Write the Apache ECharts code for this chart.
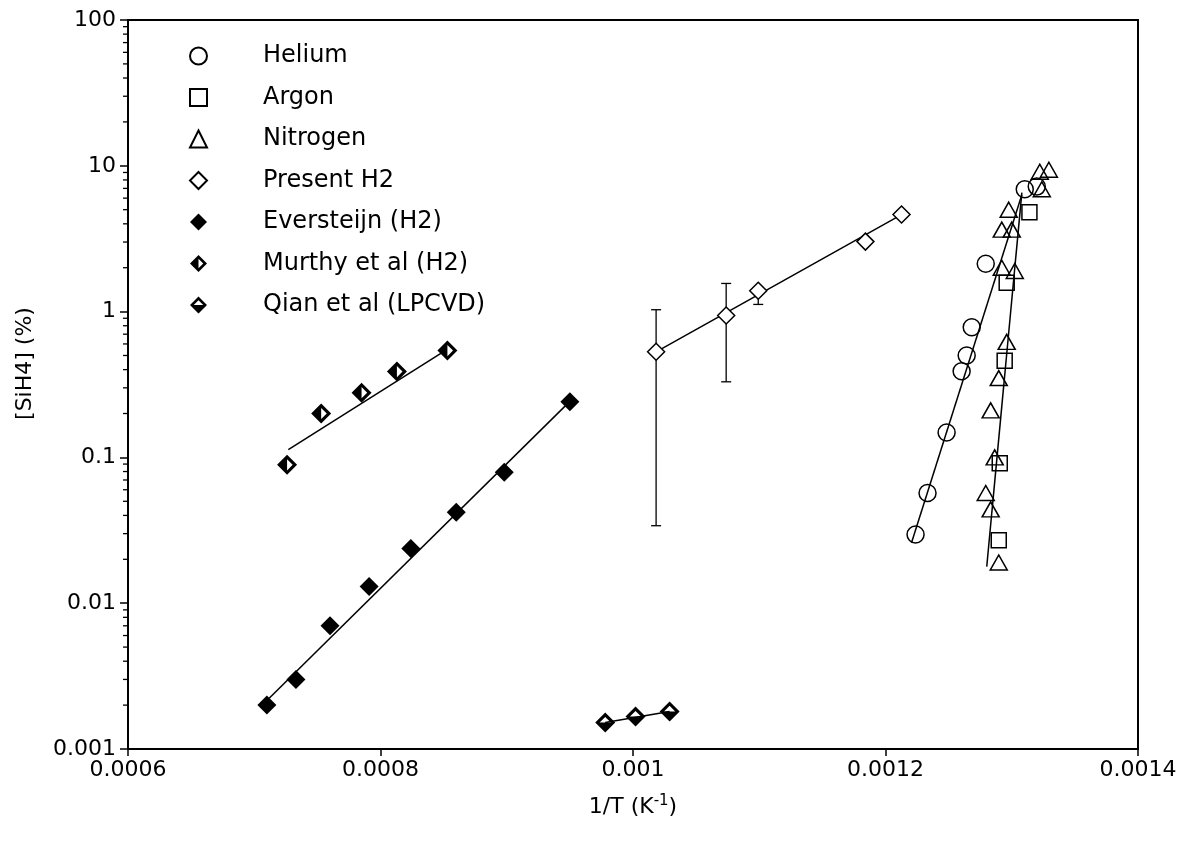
<!DOCTYPE html>
<html>
<head>
<meta charset="utf-8">
<script src="https://cdn.jsdelivr.net/npm/echarts@6/dist/echarts.min.js"></script>
<style>
  html, body { margin: 0; background: #fff; }
  #chart { width: 1187px; height: 849px; }
</style>
</head>
<body>
<div id="chart"></div>
<script>
// points: [1/T (K^-1), [SiH4] (%)]
const helium = [[0.0012238, 0.0296], [0.0012333, 0.057], [0.0012484, 0.148], [0.0012603, 0.39],
  [0.0012643, 0.50], [0.0012683, 0.78], [0.0012794, 2.13], [0.0013103, 6.9], [0.0013198, 7.2]];
const argon = [[0.001314, 4.8], [0.001296, 1.58], [0.0012944, 0.46], [0.0012905, 0.091], [0.0012897, 0.027]];
const nitrogen = [[0.0013294, 9.4], [0.0013222, 9.1], [0.0013238, 6.9], [0.0012976, 5.0], [0.0012921, 3.65],
  [0.0013, 3.65], [0.0012921, 2.0], [0.0013024, 1.9], [0.001296, 0.62], [0.0012897, 0.35],
  [0.0012833, 0.21], [0.0012865, 0.10], [0.0012794, 0.057], [0.0012833, 0.044], [0.0012897, 0.019]];
const presentH2 = [[0.0010183, 0.53], [0.0010738, 0.94], [0.0010992, 1.39], [0.0011841, 3.02], [0.0012127, 4.63]];
// error bars on present H2: [x, low, high]
const presentErr = [[0.0010183, 0.034, 1.03], [0.0010738, 0.33, 1.56], [0.0010992, 1.12, 1.39]];
const eversteijn = [[0.00071, 0.002], [0.000733, 0.003], [0.00076, 0.007], [0.000791, 0.013],
  [0.000824, 0.0237], [0.00086, 0.042], [0.000898, 0.079], [0.00095, 0.241]];
const murthy = [[0.000726, 0.089], [0.000753, 0.20], [0.000785, 0.278], [0.000813, 0.388], [0.000853, 0.54]];
const qian = [[0.000978, 0.00152], [0.001002, 0.00167], [0.001029, 0.00181]];

// fitted lines, end points
const fitEversteijn = [[0.000705, 0.00195], [0.000953, 0.257]];
const fitMurthy = [[0.000727, 0.113], [0.00085, 0.532]];
const fitQian = [[0.000978, 0.00152], [0.001029, 0.00181]];
const fitPresent = [[0.0010183, 0.53], [0.0012127, 4.63]];
const fitHelium = [[0.0012206, 0.026], [0.001308, 6.34]];
const fitArgonN2 = [[0.0012802, 0.0178], [0.001308, 6.55]];

const legendNames = ['Helium', 'Argon', 'Nitrogen', 'Present H2', 'Eversteijn (H2)', 'Murthy et al (H2)', 'Qian et al (LPCVD)'];

// log axis minor ticks (2..9 in every decade)
const decades = [0.001, 0.01, 0.1, 1, 10];
const mantissas = [2, 3, 4, 5, 6, 7, 8, 9];
const minorTicks = [];
decades.forEach(d => mantissas.forEach(m => minorTicks.push([0.0006, m * d])));

const FONT = 'DejaVu Sans';
const ring = 'M50 0L100 50L50 100L0 50ZM50 22L22 50L50 78L78 50Z';
const murthySymbol = 'path://' + ring + 'M50 22L50 78L22 50Z';
const qianSymbol = 'path://' + ring + 'M22 50L78 50L50 78Z';

const openStyle = { color: 'rgba(0,0,0,0)', borderColor: '#000', borderWidth: 1.5, opacity: 1 };

function fitLine(name, data) {
  return {
    name: name, type: 'line', data: data, symbol: 'none', z: 2, silent: true,
    lineStyle: { color: '#000', width: 1.5 }
  };
}

function scatter(name, data, symbol, size, itemStyle) {
  return {
    name: name, type: 'scatter', data: data, symbol: symbol, symbolSize: size,
    z: 4, itemStyle: itemStyle
  };
}

let chart = echarts.init(document.getElementById('chart'));
chart.setOption({
  animation: false,
  backgroundColor: '#fff',
  grid: {
    left: 128, right: 49, top: 20, bottom: 100,
    show: true, borderColor: '#000', borderWidth: 2
  },
  legend: {
    data: legendNames,
    orient: 'vertical',
    left: 184,
    top: 39,
    itemWidth: 17,
    itemHeight: 17,
    itemGap: 17.5,
    selectedMode: false,
    textStyle: { fontFamily: FONT, fontSize: 24, color: '#000', lineHeight: 24, padding: [0, 0, 0, 51] }
  },
  xAxis: {
    type: 'value',
    min: 0.0006, max: 0.0014, interval: 0.0002,
    splitLine: { show: false },
    axisLine: { lineStyle: { color: '#000', width: 2 } },
    axisTick: { inside: false, length: 7, lineStyle: { color: '#000', width: 1.5 } },
    axisLabel: {
      color: '#000', fontFamily: FONT, fontSize: 22, margin: 10,
      formatter: v => String(+v.toFixed(4))
    },
    name: '1/T (K{sup|-1})',
    nameLocation: 'middle',
    nameGap: 45,
    nameTextStyle: {
      color: '#000', fontFamily: FONT, fontSize: 22,
      rich: { sup: { fontFamily: FONT, fontSize: 15, color: '#000', padding: [0, 0, 12, 0] } }
    }
  },
  yAxis: {
    type: 'log',
    logBase: 10,
    min: 0.001, max: 100,
    splitLine: { show: false },
    axisLine: { lineStyle: { color: '#000', width: 2 } },
    axisTick: { inside: false, length: 8, lineStyle: { color: '#000', width: 1.5 } },
    minorTick: { show: false },
    axisLabel: {
      color: '#000', fontFamily: FONT, fontSize: 22, margin: 12,
      formatter: v => String(+(+v).toPrecision(3))
    },
    name: '[SiH4] (%)',
    nameLocation: 'middle',
    nameGap: 92,
    nameTextStyle: { color: '#000', fontFamily: FONT, fontSize: 22, padding: [0, 0, 0, 42] }
  },
  series: [
    fitLine('fitEversteijn', fitEversteijn),
    fitLine('fitMurthy', fitMurthy),
    fitLine('fitQian', fitQian),
    fitLine('fitPresent', fitPresent),
    fitLine('fitHelium', fitHelium),
    fitLine('fitArgonN2', fitArgonN2),
    {
      name: 'errPresent', type: 'custom', data: presentErr, z: 2, silent: true,
      encode: { x: 0, y: [1, 2] },
      renderItem: function (params, api) {
        const x = api.value(0);
        const lo = api.coord([x, api.value(1)]);
        const hi = api.coord([x, api.value(2)]);
        const w = 5;
        const st = { stroke: '#000', lineWidth: 1.3 };
        return {
          type: 'group',
          children: [
            { type: 'line', shape: { x1: lo[0], y1: lo[1], x2: hi[0], y2: hi[1] }, style: st },
            { type: 'line', shape: { x1: lo[0] - w, y1: lo[1], x2: lo[0] + w, y2: lo[1] }, style: st },
            { type: 'line', shape: { x1: hi[0] - w, y1: hi[1], x2: hi[0] + w, y2: hi[1] }, style: st }
          ]
        };
      }
    },
    {
      name: 'minorTicks', type: 'custom', data: minorTicks, clip: false, silent: true, z: 5,
      renderItem: function (params, api) {
        const p = api.coord([api.value(0), api.value(1)]);
        return {
          type: 'line',
          shape: { x1: p[0] - 5, y1: p[1], x2: p[0], y2: p[1] },
          style: { stroke: '#000', lineWidth: 1.3 }
        };
      }
    },
    scatter('Helium', helium, 'circle', 17, openStyle),
    scatter('Argon', argon, 'rect', 15, openStyle),
    scatter('Nitrogen', nitrogen, 'triangle', [17, 15], openStyle),
    scatter('Present H2', presentH2, 'diamond', 17, { color: '#fff', borderColor: '#000', borderWidth: 1.5, opacity: 1 }),
    scatter('Eversteijn (H2)', eversteijn, 'diamond', 19, { color: '#000', opacity: 1 }),
    scatter('Murthy et al (H2)', murthy, murthySymbol, 20, { color: '#000', opacity: 1 }),
    scatter('Qian et al (LPCVD)', qian, qianSymbol, 20, { color: '#000', opacity: 1 })
  ]
});
</script>
</body>
</html>
